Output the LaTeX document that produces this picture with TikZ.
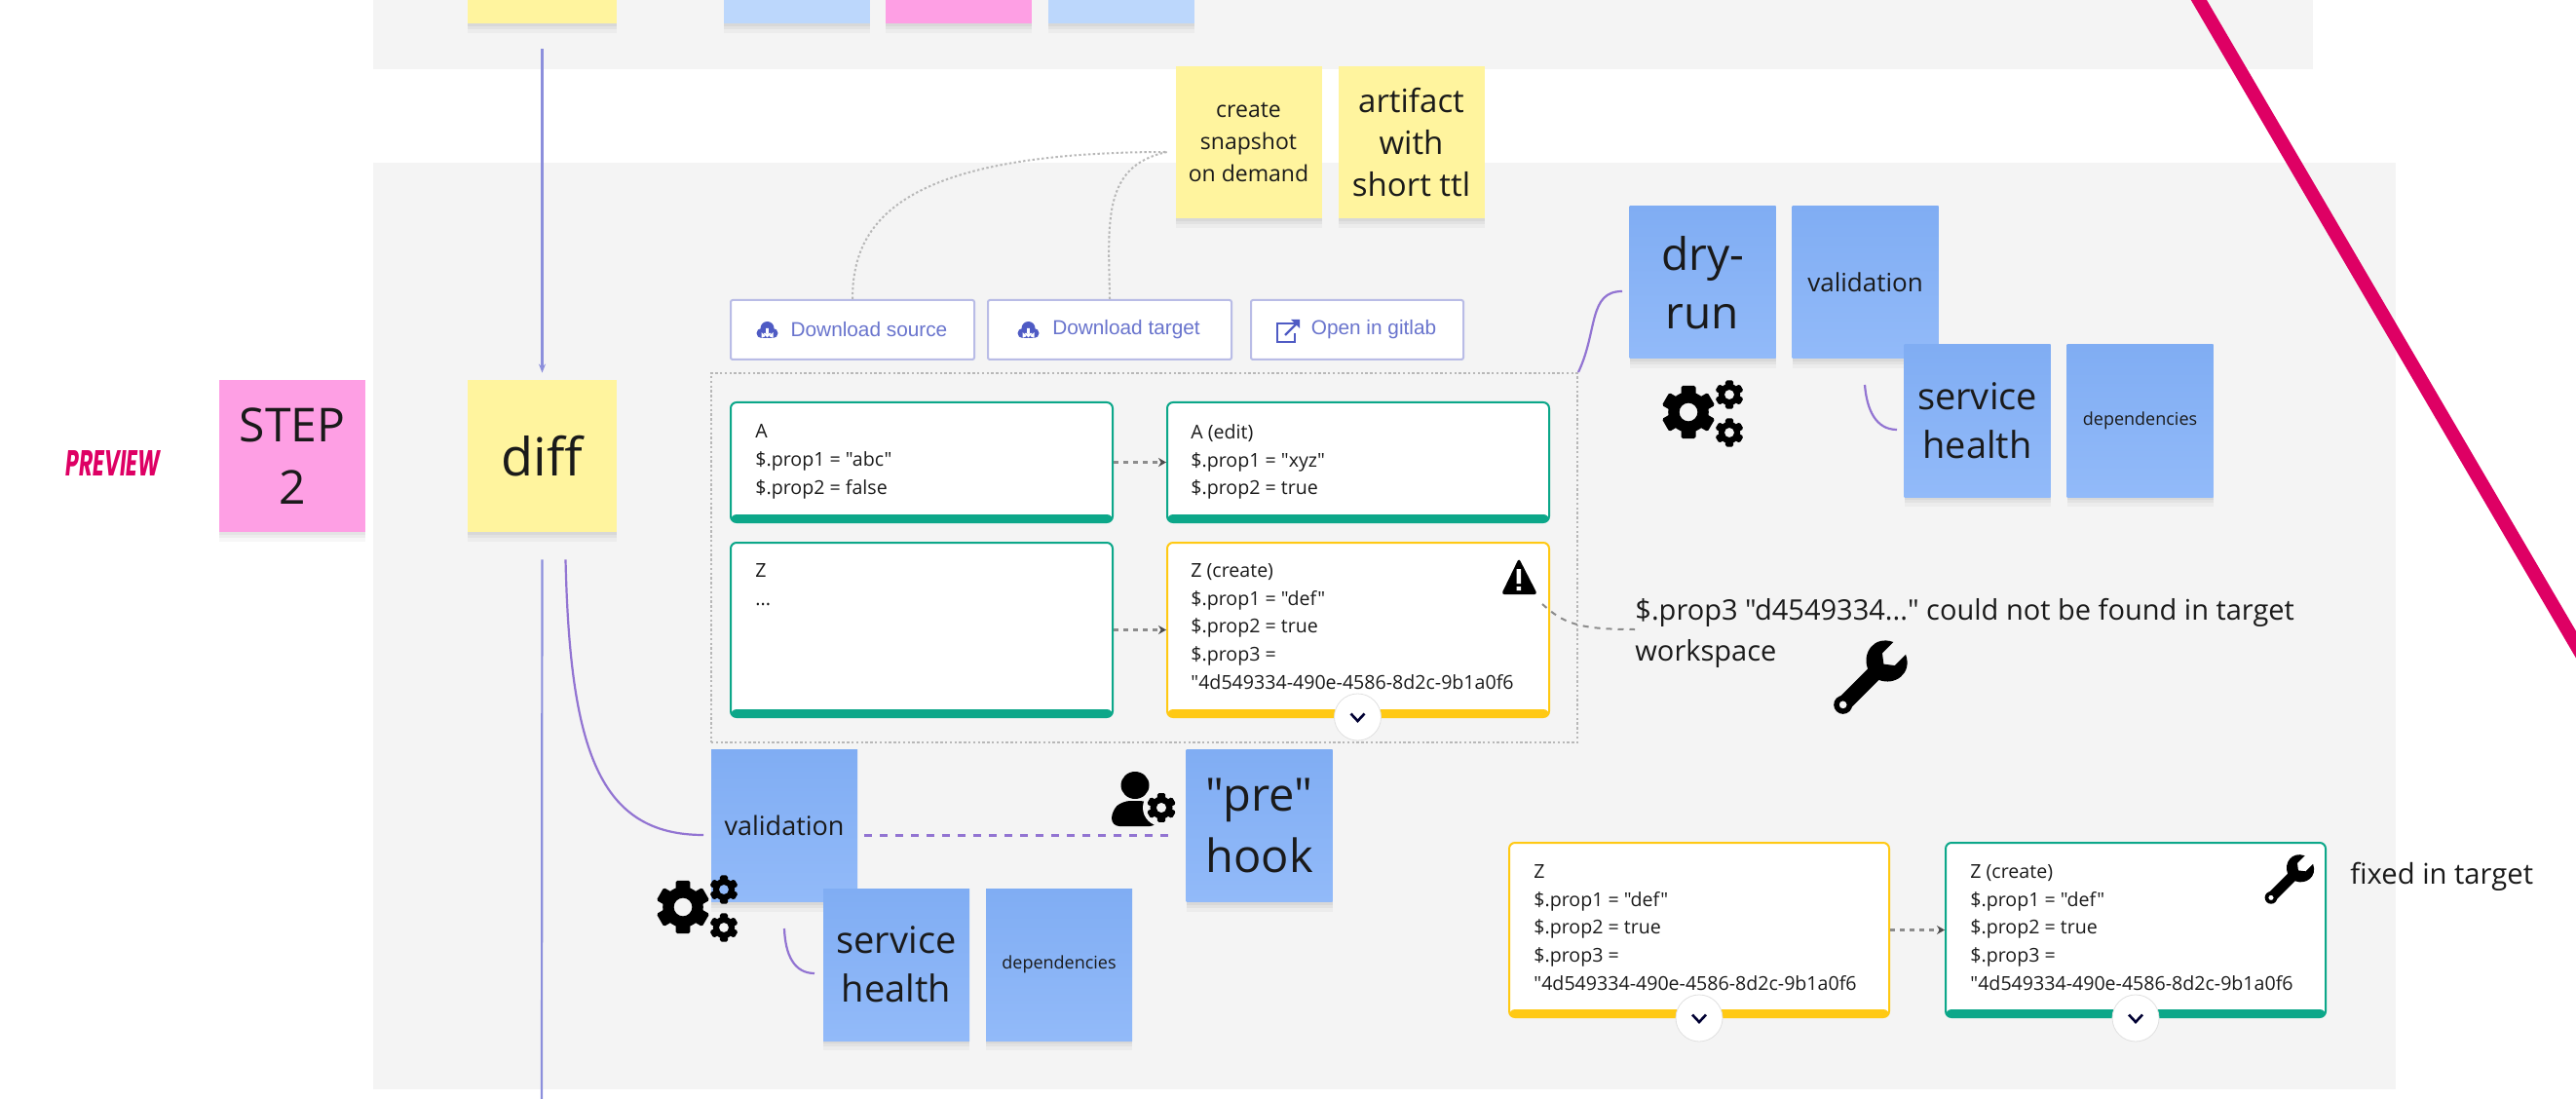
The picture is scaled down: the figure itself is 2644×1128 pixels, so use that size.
\documentclass[tikz,border=0pt]{standalone}
\usepackage{fontspec}
\setmainfont{Open Sans}[Ligatures=TeXOff]
\newfontfamily\btnfont{Liberation Sans}
\newfontfamily\stampfont{Poppins}
\usetikzlibrary{arrows.meta,shadows}

\definecolor{panelgray}{HTML}{F4F4F4}
\definecolor{noteyellow}{HTML}{FFF49E}
\definecolor{notepink}{HTML}{FE9FE4}
\definecolor{notepale}{HTML}{BCD7FC}
\definecolor{bluetop}{HTML}{80ADF3}
\definecolor{bluebot}{HTML}{92BAF9}
\definecolor{cardgreen}{HTML}{0CA789}
\definecolor{cardyellow}{HTML}{FFC914}
\definecolor{btnline}{HTML}{B9BCE6}
\definecolor{btnblue}{HTML}{4F5BC4}
\definecolor{flowline}{HTML}{8C8FDC}
\definecolor{linkline}{HTML}{9274D2}
\definecolor{magentaline}{HTML}{DE0064}
\definecolor{inktext}{HTML}{1A1A1A}
\newcommand{\fsz}[2]{\fontsize{#1}{#2}\selectfont}

\begin{document}
\begin{tikzpicture}[x=0.5pt, y=-0.5pt, text=inktext,
  note/.style={minimum width=75pt, minimum height=78pt, inner sep=0pt, align=center,
    drop shadow={shadow xshift=0pt, shadow yshift=-1.5pt, opacity=.04, fill=black},
    drop shadow={shadow xshift=0pt, shadow yshift=-3pt, opacity=.04, fill=black},
    drop shadow={shadow xshift=0pt, shadow yshift=-5pt, opacity=.03, fill=black}},
  yellow note/.style={note, fill=noteyellow},
  pink note/.style={note, fill=notepink},
  pale note/.style={note, fill=notepale},
  blue note/.style={note, top color=bluetop, bottom color=bluebot},
  card/.style={draw=#1, line width=1pt, fill=white, rounded corners=3pt, minimum width=196pt, inner sep=0pt,
    path picture={\fill[#1] ([yshift=4pt]path picture bounding box.south west) rectangle (path picture bounding box.south east);}},
  card text/.style={anchor=north west, inner sep=0pt, align=left, font=\fsz{9.8}{14.4}},
  button/.style={draw=btnline, line width=1pt, fill=white, rounded corners=1pt, minimum height=30.5pt, inner sep=0pt,
    text=btnblue!85, font=\btnfont\fsz{10.4}{12}},
  expand/.style={circle, draw=black!12, fill=white, minimum size=24pt, inner sep=0pt},
  flow/.style={flowline, line width=1.1pt},
  link/.style={linkline, line width=1.1pt},
  faint/.style={black!28, line width=1pt, dash pattern=on 1.2pt off 1.2pt},
  small arrow/.style={black!45, line width=1.2pt, dash pattern=on 2.5pt off 2.5pt, -{Stealth[length=4pt,width=4.5pt,black!70]}},
  pics/gear/.style={code={
    \fill[even odd rule] (0,0) circle (10) (0,0) circle (4.5);
    \foreach \a in {0,60,...,300} \fill[rotate=\a, rounded corners=.8pt] (-3.6,8) rectangle (3.6,13);
  }},
  pics/gears/.style={code={
    \pic[scale=2.08] at (0,0) {gear};
    \pic[scale=1.12] at (42,-18) {gear};
    \pic[scale=1.12] at (42,21) {gear};
  }},
  pics/wrench/.style={code={
    \begin{scope}[rotate=-45]
    \fill (-8,29) -- (-8,-11) .. controls (-24,-18) and (-28,-40) .. (-9,-49) -- (-9,-33) -- (0,-26)
      -- (9,-33) -- (9,-49) .. controls (28,-40) and (24,-18) .. (8,-11) -- (8,29) -- cycle;
    \fill[even odd rule] (0,33) circle (9.5) (0,33) circle (4);
    \end{scope}
  }},
  pics/chevron/.style={code={
    \draw[black!80!blue, line width=1.3pt] (-7,-3.5) -- (0,4) -- (7,-3.5);
  }},
  pics/cloudload/.style={code={
    \fill (-6,3) circle (5) (0,-2) circle (7) (6,3) circle (5) (-6,2) rectangle (6,8);
    \fill[white] (-1.3,-2) rectangle (1.3,4) (-4,3) -- (4,3) -- (0,7.5) -- cycle;
  }},
  pics/openlink/.style={code={
    \draw[line width=1.2pt] (7,-8) -- (-11,-8) -- (-11,11) -- (7,11) -- (7,2);
    \draw[line width=1.2pt] (-3,4) -- (9,-8);
    \fill (12,-12) -- (12,-3) -- (3,-12) -- cycle;
  }}]
\useasboundingbox (0,0) rectangle (2644,1128);
\clip (0,0) rectangle (2644,1128);

\fill[panelgray] (383,-5) rectangle (2374,71);
\fill[panelgray] (383,167) rectangle (2459,1118);

% top row, cut by the page
\node[yellow note, minimum width=76.5pt] (lastnote) at (556.5,-54) {};
\node[pale note]   (palea)    at (817.5,-54) {};
\node[pink note]   (pinka)    at (983.5,-54) {};
\node[pale note]   (paleb)    at (1151,-54) {};

% step 2 column
\node[font=\stampfont\bfseries\itshape\fsz{18.5}{20}, text=magentaline, transform shape, xscale=.59] (preview) at (116,476) {PREVIEW};
\node[pink note, font=\fsz{24}{32}]   (step) at (300,468) {STEP\\2};
\node[yellow note, minimum width=76.5pt, font=\fsz{27}{32}] (diff) at (556.5,468) {diff};
\coordinate (pageend) at (556,1135);

% snapshot notes
\node[yellow note, font=\fsz{11.5}{16.3}] (snapshot) at (1281.5,146) {create\\snapshot\\on demand};
\node[yellow note, font=\fsz{16.5}{21.3}] (artifact) at (1448.5,146) {artifact\\with\\short ttl};

% buttons
\node[button, minimum width=125pt] (dlsource) at (875,338.5) {\hspace{17pt}Download source};
\node[button, minimum width=125pt] (dltarget) at (1139,338.5) {\hspace{17pt}Download target};
\node[button, minimum width=109pt] (gitlab)   at (1393,338.5) {\hspace{17pt}Open in gitlab};
\pic[btnblue] at (787.5,339) {cloudload};
\pic[btnblue] at (1055.5,339) {cloudload};
\pic[btnblue] at (1322,340) {openlink};

% diff cards
\node[draw=black!28, line width=1pt, dash pattern=on 1.2pt off 1.2pt, minimum width=444.5pt, minimum height=189.5pt, inner sep=0pt] (frame) at (1174.5,572.5) {};
\node[card=cardgreen, minimum height=61.5pt]  (srca) at (946,474.5) {};
\node[card=cardgreen, minimum height=61.5pt]  (dsta) at (1394,474.5) {};
\node[card=cardgreen, minimum height=89.5pt]  (srcz) at (946,646.5) {};
\node[card=cardyellow, minimum height=89.5pt] (dstz) at (1394,646.5) {};
\node[card text] (srcatext) at (775,435) {A\\\$.prop1 = "abc"\\\$.prop2 = false};
\node[card text] (dstatext) at (1222,435) {A (edit)\\\$.prop1 = "xyz"\\\$.prop2 = true};
\node[card text] (srcztext) at (775,578) {Z\\...};
\node[card text] (dstztext) at (1222,578) {Z (create)\\\$.prop1 = "def"\\\$.prop2 = true\\\$.prop3 =\\"4d549334-490e-4586-8d2c-9b1a0f6};
\node[expand] (expandz) at (1393.5,736) {};
\pic at (expandz) {chevron};
\fill[rounded corners=1.5pt] (1559,573) -- (1578,610) -- (1541,610) -- cycle;
\fill[white] (1556.5,584) rectangle (1561,599) (1556.5,602) rectangle (1561,606);

% dry-run notes
\node[blue note, font=\fsz{23}{30}] (dryrun) at (1747.5,290) {dry-\\run};
\node[blue note, right of=dryrun, node distance=83.5pt, font=\fsz{13}{16}] (dryvalid) {validation};
\node[blue note, font=\fsz{19}{25}]   (dryhealth) at (2029.5,432) {service\\health};
\node[blue note, right of=dryhealth, node distance=83.5pt, font=\fsz{9}{12}] (drydeps) {dependencies};
\pic at (1733,423) {gears};
\coordinate (dryfree) at (1665,299);
\coordinate (dryhealthfree) at (1947,441);
\coordinate (dryvalidfree) at (1914,395);

% warning text
\node[anchor=north west, inner sep=0pt, align=left, font=\fsz{14.5}{21}] (warntext) at (1678,614)
  {\$.prop3 "d4549334..." could not be found in target\\workspace};
\coordinate (warnfree) at (1583,620);
\pic at (1915,700) {wrench};

% pre hook notes
\node[blue note, font=\fsz{13.5}{16}] (validnote) at (805,847.5) {validation};
\node[blue note, font=\fsz{23.5}{31.5}] (prehook) at (1292.5,847.5) {"pre"\\hook};
\node[blue note, font=\fsz{19}{25}]   (svchealth) at (920,990) {service\\health};
\node[blue note, right of=svchealth, node distance=83.5pt, font=\fsz{9}{12}] (svcdeps) {dependencies};
\pic at (701,931) {gears};
\coordinate (validfree) at (722,857);
\coordinate (svcfree) at (836,999);
\coordinate (svcstart) at (805,953);
% person with gear
\fill (1165,806) ellipse (14.5 and 14);
\fill[rounded corners=4pt] (1141,848) -- (1141,832) -- (1152,822) -- (1178,822) -- (1188,832) -- (1188,848) -- cycle;
\fill[panelgray] (1192,829) circle (19);
\pic[scale=1.15] at (1192,829) {gear};

% fixed cards
\node[card=cardyellow, minimum width=195pt, minimum height=89.5pt] (fixz) at (1744,954.5) {};
\node[card=cardgreen, minimum width=195pt, minimum height=89.5pt]  (fixt) at (2192,954.5) {};
\node[card text] (fixztext) at (1574,887) {Z\\\$.prop1 = "def"\\\$.prop2 = true\\\$.prop3 =\\"4d549334-490e-4586-8d2c-9b1a0f6};
\node[card text] (fixttext) at (2022,887) {Z (create)\\\$.prop1 = "def"\\\$.prop2 = true\\\$.prop3 =\\"4d549334-490e-4586-8d2c-9b1a0f6};
\node[expand] (expandy) at (1744,1045) {};
\node[expand] (expandg) at (2192,1045) {};
\pic at (expandy) {chevron};
\pic at (expandg) {chevron};
\pic[scale=.67] at (2346.6,905.7) {wrench};
\node[anchor=west, inner sep=0pt, font=\fsz{14.6}{16}] (fixedtext) at (2412,900) {fixed in target};

% connectors
\path[flow, -{Stealth[length=4.5pt,width=3.5pt]}, shorten <=13pt, shorten >=3.5pt] (lastnote.south) edge (diff.north);
\path[flow, shorten <=14pt] (diff.south) edge (pageend);
\draw[link] ([xshift=12pt,yshift=-14pt]diff.south) .. controls (585,770) and (615,857) .. (validfree);
\draw[link] (frame.north east) .. controls (1640,340) and (1630,299) .. (dryfree);
\draw[link] (dryvalidfree) .. controls (1916,420) and (1925,441) .. (dryhealthfree);
\draw[link] (svcstart) .. controls (806,980) and (815,999) .. (svcfree);
\path[linkline, line width=1.5pt, dash pattern=on 4pt off 4pt, shorten <=3.5pt, shorten >=5pt]
  ([yshift=-4.75pt]validnote.east) edge ([yshift=-4.75pt]prehook.west);
\draw[faint] (dlsource.north) .. controls (875,230) and (920,156) .. (1198,156);
\draw[faint] (dltarget.north) .. controls (1138,230) and (1130,170) .. (1198,156);
\path[small arrow] (srca.east) edge (dsta.west);
\path[small arrow] (srcz.east) edge (dstz.west);
\path[small arrow] (fixz.east) edge (fixt.west);
\draw[black!45, line width=1pt, dash pattern=on 3pt off 3pt] (warnfree) .. controls (1605,640) and (1620,646) .. (warntext.west |- 0,646);

% magenta stroke
\coordinate (magtop) at (2251,-10);
\coordinate (magend) at (2660,689);
\draw[magentaline, line width=7pt] (magtop) -- (magend);
\end{tikzpicture}
\end{document}
